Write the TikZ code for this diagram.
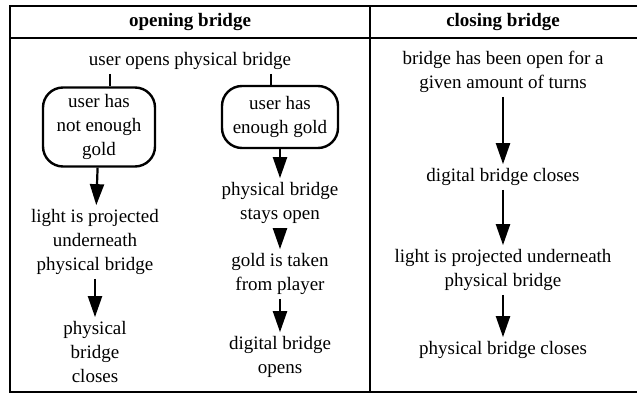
\documentclass[tikz,border=0pt]{standalone}
\usepackage{fontspec}
\setmainfont{Liberation Serif}
\usetikzlibrary{arrows.meta,positioning}

\begin{document}
\begin{tikzpicture}[x=1pt, y=-1pt,
  txt/.style={align=center, inner sep=4pt, font=\fontsize{19}{24}\selectfont},
  head/.style={font=\fontsize{19}{24}\selectfont\bfseries},
  choice/.style={txt, draw, line width=2.4pt, rounded corners=20pt},
  arr/.style={-{Triangle[length=21pt,width=14pt]}, line width=2.2pt}]

 \useasboundingbox (0,0) rectangle (639,403);

 % table
 \draw [line width=2pt] (637,6) -- (10,6) -- (10,392) -- (637,392);
 \draw [line width=2pt] (10,38) -- (637,38);
 \draw [line width=2pt] (370,6) -- (370,392);

 \node [head] (hopen)  at (190,22) {opening bridge};
 \node [head] (hclose) at (503,22) {closing bridge};

 % opening bridge
 \node [txt] (uopen) at (190,61) {user opens physical bridge};

 \node [choice, minimum width=112pt, minimum height=79pt] (nogold) at (99,127) {user has\\not enough\\gold};
 \node [choice, minimum width=116pt, minimum height=62pt, inner sep=1pt] (gold) at (280,117) {user has\\enough gold};

 \draw [line width=2pt] (uopen.south -| nogold.75) -- (nogold.75);
 \draw [line width=2pt] (uopen.south -| gold.105) -- (gold.105);

 \node [txt] (light1) at (95,242) {light is projected\\underneath\\physical bridge};
 \node [txt] (pclose1) at (95,352) {physical\\bridge\\closes};

 \node [txt] (pstays) at (280,203) {physical bridge\\stays open};
 \node [txt] (taken) at (280,274) {gold is taken\\from player};
 \node [txt] (dopen) at (280,357) {digital bridge\\opens};

 \draw [arr] (nogold) -- (light1);
 \draw [arr] (light1) -- (pclose1);
 \draw [arr] (gold) -- (pstays);
 \draw [arr] (pstays) -- (taken);
 \draw [arr] (taken) -- (dopen);

 % closing bridge
 \node [txt] (turns) at (503,72) {bridge has been open for a\\given amount of turns};
 \node [txt] (dclose) at (503,177) {digital bridge closes};
 \node [txt] (light2) at (503,270) {light is projected underneath\\physical bridge};
 \node [txt] (pclose2) at (503,350) {physical bridge closes};

 \draw [arr] (turns) -- (dclose);
 \draw [arr] (dclose) -- (light2);
 \draw [arr] (light2) -- (pclose2);

\end{tikzpicture}
\end{document}
